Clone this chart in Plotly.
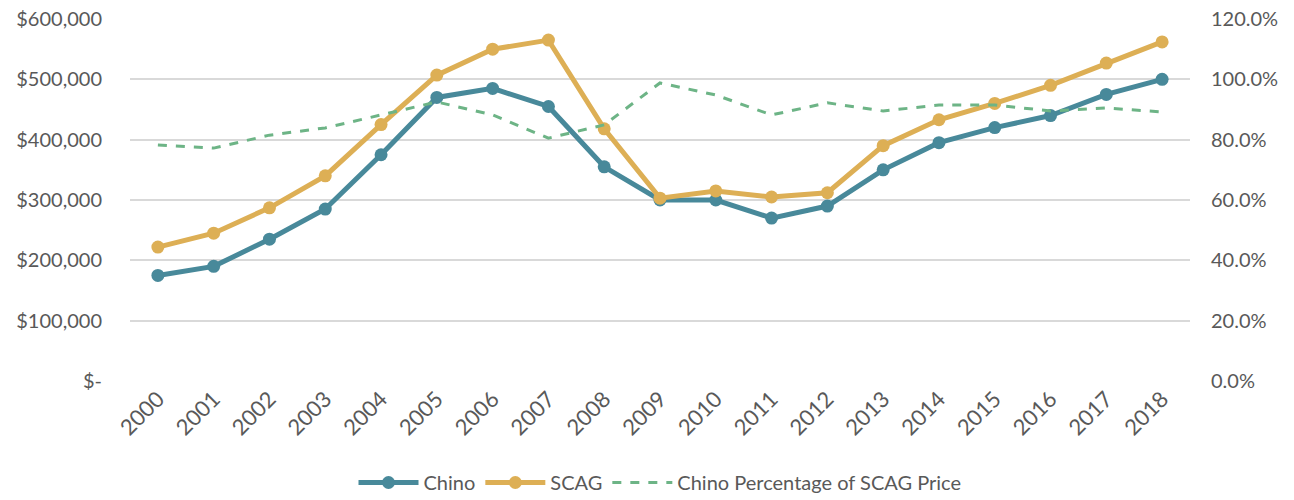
import plotly.graph_objects as go

years = [str(y) for y in range(2000, 2019)]
chino = [175000, 190000, 235000, 285000, 375000, 470000, 485000, 455000, 355000, 300000,
         300000, 270000, 290000, 350000, 395000, 420000, 440000, 475000, 500000]
scag = [222000, 245000, 287000, 340000, 425000, 507000, 550000, 565000, 418000, 303000,
        315000, 305000, 312000, 390000, 433000, 460000, 490000, 527000, 562000]
pct = [0.782, 0.772, 0.815, 0.839, 0.882, 0.925, 0.882, 0.805, 0.849, 0.988,
       0.948, 0.882, 0.922, 0.895, 0.915, 0.915, 0.895, 0.905, 0.892]

left_vals = [0, 100000, 200000, 300000, 400000, 500000, 600000]
left_text = ["$-", "$100,000", "$200,000", "$300,000", "$400,000", "$500,000", "$600,000"]

teal = "#48899A"
gold = "#DDAF55"
green = "#6DB486"
txt = "#595959"

fig = go.Figure()
fig.add_trace(go.Scatter(x=years, y=chino, name="Chino", mode="lines+markers",
                         line=dict(color=teal, width=5), marker=dict(size=13, color=teal)))
fig.add_trace(go.Scatter(x=years, y=scag, name="SCAG", mode="lines+markers",
                         line=dict(color=gold, width=5), marker=dict(size=13, color=gold)))
fig.add_trace(go.Scatter(x=years, y=pct, name="Chino Percentage of SCAG Price", mode="lines",
                         line=dict(color=green, width=3, dash="dash"), yaxis="y2"))

fig.update_layout(
    width=1294, height=500,
    margin=dict(l=130, r=104, t=19, b=119, autoexpand=False),
    plot_bgcolor="white", paper_bgcolor="white",
    font=dict(family="Lato", color=txt, size=20),
    xaxis=dict(type="category", range=[-0.5, 18.5], tickangle=-45, showgrid=False,
               tickfont=dict(size=22), ticks="", showline=False),
    yaxis=dict(range=[0, 600000], tickvals=left_vals, ticktext=left_text,
               gridcolor="#d9d9d9", gridwidth=1.5, zeroline=False, ticks="",
               ticklabelstandoff=27, ticklabeloverflow="allow"),
    yaxis2=dict(range=[0, 1.2], overlaying="y", side="right", tickformat=".1%",
                dtick=0.2, showgrid=False, zeroline=False, ticks="",
                ticklabelstandoff=20, ticklabeloverflow="allow"),
    legend=dict(orientation="h", x=0.5, xanchor="center", yref="container", y=0.035, yanchor="middle",
                font=dict(family="Lato", size=20),
                itemwidth=60, tracegroupgap=0),
    showlegend=True,
)

# drop the browser's default 8px body margin so the figure sits at the page corner
fig.write_html("out.html", config={"displayModeBar": False},
               post_script="document.body.style.margin='0';")
